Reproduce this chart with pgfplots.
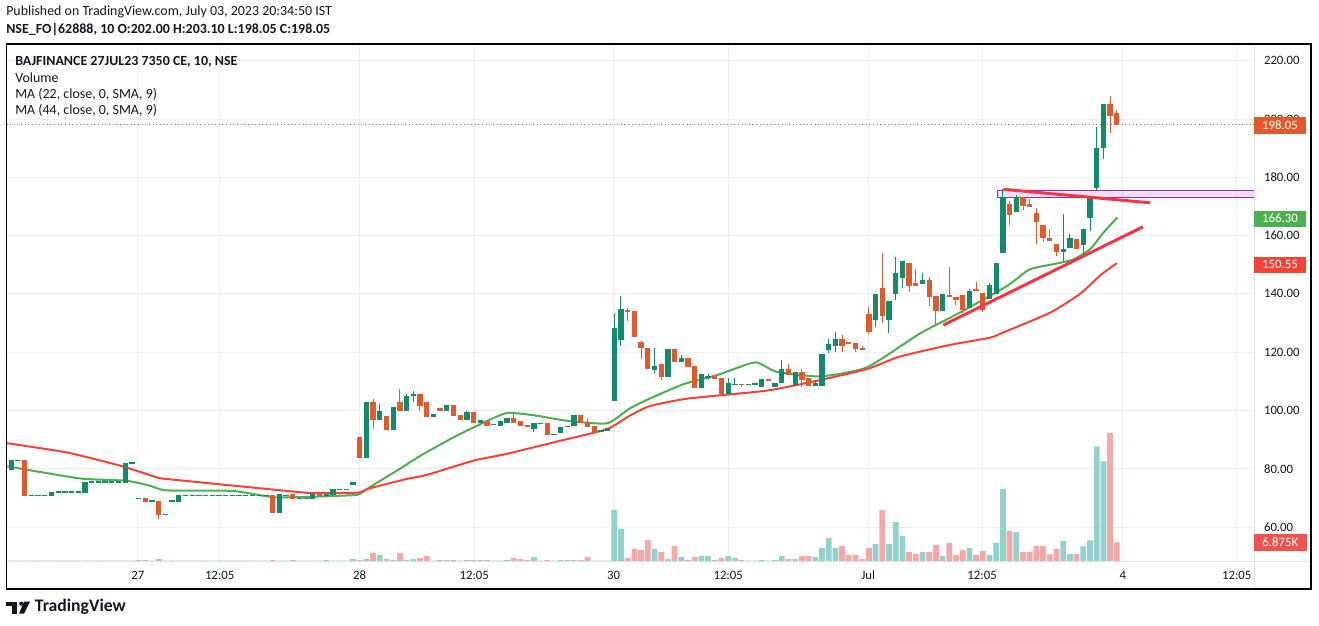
\documentclass[border=0pt]{standalone}
\usepackage{pgfplots}
\pgfplotsset{compat=1.18}
\usepackage{pgfplotstable}
\usepackage{fontspec}
\setmainfont{Carlito}
\definecolor{up}{HTML}{118B6C}
\definecolor{dn}{HTML}{E2592C}
\definecolor{vup}{HTML}{93D2CC}
\definecolor{vdn}{HTML}{F6A8A6}
\definecolor{mag}{HTML}{4CAF50}
\definecolor{mar}{HTML}{F44336}
\definecolor{trd}{HTML}{F23645}
\definecolor{purp}{HTML}{9C27B0}
\definecolor{gridc}{HTML}{EEEEEE}
\definecolor{sep}{HTML}{E0E3EB}
\definecolor{txt}{HTML}{131722}
\definecolor{vlab}{HTML}{EF5350}

\pgfplotstableread{
i o h l c v
0 79.7 83.0 79.7 83.0 0.45
1 83.0 83.0 83.0 83.0 0.45
2 83.0 83.0 70.8 70.8 0.45
3 70.9 70.9 70.9 70.9 0.45
4 70.9 70.9 70.9 70.9 0.45
5 70.9 70.9 70.9 70.9 0.45
6 70.8 72.1 70.8 72.1 0.45
7 72.1 72.1 72.1 72.1 0.45
8 72.1 72.1 72.1 72.1 0.45
9 72.1 72.1 72.1 72.1 0.45
10 72.1 72.1 72.1 72.1 0.45
11 71.8 75.5 71.8 75.5 0.45
12 75.5 75.5 75.5 75.5 0.45
13 75.5 75.5 75.5 75.5 0.45
14 75.5 75.5 75.5 75.5 0.45
15 75.5 75.5 75.5 75.5 0.45
16 75.5 75.5 75.5 75.5 0.45
17 75.3 82.0 75.3 82.0 0.45
18 82.0 82.0 82.0 82.0 0.45
19 69.9 69.9 69.9 69.9 0.7
20 70.0 70.0 68.6 68.6 0.7
21 69.0 69.0 69.0 69.0 0.45
22 69.0 69.0 62.9 64.3 1.05
23 64.4 64.4 64.4 64.4 0.45
24 69.0 69.0 69.0 69.0 0.45
25 68.7 71.0 68.7 71.0 0.45
26 70.9 70.9 70.9 70.9 0.45
27 70.9 70.9 70.9 70.9 0.45
28 70.9 70.9 70.9 70.9 0.45
29 70.9 70.9 70.9 70.9 0.45
30 70.9 70.9 70.9 70.9 0.45
31 70.9 70.9 70.9 70.9 0.45
32 70.9 70.9 70.9 70.9 0.45
33 70.9 70.9 70.9 70.9 0.45
34 70.9 70.9 70.9 70.9 0.45
35 70.9 70.9 70.9 70.9 0.45
36 70.9 70.9 70.9 70.9 0.45
37 70.9 70.9 70.9 70.9 0.45
38 70.9 70.9 70.9 70.9 0.45
39 71.0 71.0 65.0 65.0 0.7
40 65.0 71.4 65.0 71.4 0.45
41 71.0 71.0 71.0 71.0 0.45
42 71.4 71.4 69.7 69.7 0.7
43 69.9 69.9 69.9 69.9 0.45
44 69.9 69.9 69.9 69.9 0.45
45 69.7 71.4 69.7 71.4 0.45
46 71.4 71.4 70.6 70.6 0.45
47 70.6 71.4 70.6 71.4 0.7
48 71.0 73.1 71.0 73.1 0.45
49 73.0 73.0 73.0 73.0 0.45
50 73.0 73.0 73.0 73.0 0.45
51 74.5 75.4 74.5 75.4 1.05
52 90.9 90.9 83.8 83.8 0.7
53 83.8 103.0 83.8 103.0 1.05
54 103.0 103.9 93.6 96.8 3.2
55 96.8 102.2 96.8 99.8 2.5
56 98.1 98.1 93.4 93.4 1.05
57 93.4 101.2 93.4 101.2 0.7
58 103.0 107.3 99.8 99.8 3.2
59 99.8 105.6 99.8 104.9 0.7
60 104.9 106.6 103.0 105.7 1.05
61 105.7 105.7 99.8 101.6 1.4
62 103.0 103.0 97.8 97.8 2.1
63 97.8 98.8 97.8 98.8 0.45
64 100.8 100.8 99.8 99.8 0.7
65 99.8 101.8 99.8 101.8 0.7
66 101.8 101.8 98.1 98.1 0.7
67 98.4 98.4 96.7 96.7 0.45
68 96.7 99.9 96.7 99.6 0.7
69 99.6 99.6 95.7 95.7 0.7
70 95.7 96.9 95.7 96.9 0.7
71 96.5 96.5 94.8 94.8 0.7
72 95.2 95.2 95.2 95.2 0.45
73 94.8 96.5 94.8 96.5 0.45
74 95.7 97.4 95.7 97.4 0.7
75 97.4 98.8 95.7 95.7 1.4
76 96.5 96.5 94.8 94.8 1.05
77 94.85 94.85 94.8 94.8 0.7
78 93.6 95.7 92.7 95.7 1.75
79 95.7 95.7 95.7 95.7 0.45
80 95.7 95.7 91.7 91.7 0.7
81 91.8 91.8 91.8 91.8 0.45
82 92.3 94.3 92.3 94.3 0.7
83 94.3 94.8 94.3 94.8 0.7
84 94.7 98.4 94.7 98.4 0.7
85 98.4 98.4 95.7 95.7 0.7
86 96.2 97.3 94.5 94.5 1.75
87 94.7 94.7 92.4 92.4 0.45
88 93.0 93.0 93.0 93.0 0.45
89 92.9 93.9 92.9 93.9 0.45
90 103.3 133.4 103.3 128.2 18.3
91 124.2 139.3 122.0 134.7 11.6
92 134.4 135.3 130.7 134.0 1.4
93 134.0 134.0 125.2 125.2 4.6
94 123.5 123.9 117.6 121.4 4.2
95 121.4 121.4 114.4 114.4 7.7
96 113.8 121.4 112.7 115.2 4.6
97 115.9 115.9 110.5 111.5 3.5
98 111.5 121.0 111.5 121.0 1.05
99 121.0 121.0 116.7 116.7 5.6
100 116.7 119.0 116.7 117.9 1.75
101 117.9 117.9 115.0 115.0 0.7
102 115.2 115.2 107.7 107.7 1.75
103 107.7 112.5 107.7 112.5 2.1
104 111.2 112.5 110.5 111.7 2.1
105 112.1 112.1 110.8 110.8 0.7
106 111.1 111.1 105.3 105.6 1.4
107 105.7 111.0 105.7 109.4 2.1
108 109.0 111.0 109.0 109.1 1.4
109 109.1 109.1 108.2 109.0 0.7
110 109.0 109.0 109.0 109.0 0.45
111 109.0 109.5 109.0 109.5 0.45
112 108.1 110.8 108.1 110.8 0.7
113 110.8 110.8 110.0 110.0 0.45
114 108.1 109.6 108.1 109.6 0.7
115 109.6 117.3 109.6 114.2 2.1
116 114.2 115.9 112.2 112.2 1.05
117 108.8 113.1 108.8 113.1 1.05
118 113.1 114.2 108.1 110.5 2.1
119 111.1 111.1 108.3 108.3 2.1
120 108.3 110.1 108.3 109.4 1.75
121 108.3 119.3 108.3 119.3 4.9
122 120.8 124.5 119.7 122.7 8.4
123 122.2 127.1 120.1 124.5 4.9
124 124.5 125.9 120.0 122.0 5.6
125 123.5 123.5 123.0 123.0 2.5
126 123.1 123.1 120.0 121.0 2.5
127 121.5 122.3 121.0 121.0 1.05
128 133.1 135.5 126.2 127.0 4.9
129 131.0 139.9 128.5 139.9 6.3
130 141.9 153.9 129.9 132.4 18.3
131 131.1 137.5 126.5 137.5 6.3
132 139.9 152.8 137.8 147.1 14.0
133 145.5 151.2 142.0 151.2 9.1
134 150.7 150.7 140.7 142.7 3.5
135 143.6 148.4 142.7 142.7 2.8
136 143.3 147.3 143.3 144.7 3.5
137 144.7 145.9 135.9 139.0 3.5
138 139.3 139.3 129.6 134.1 6.0
139 134.1 139.9 134.1 139.9 2.1
140 139.5 149.2 138.8 138.8 6.7
141 138.8 138.8 136.2 138.0 2.5
142 139.6 139.6 133.6 134.5 4.2
143 135.3 141.6 135.3 140.9 4.9
144 141.6 144.0 140.9 140.9 2.5
145 140.4 140.4 133.9 134.5 3.9
146 138.2 143.9 138.2 143.0 2.5
147 139.9 150.7 139.9 150.7 6.7
148 153.9 176.1 153.9 173.2 25.6
149 171.0 171.8 163.8 167.0 10.9
150 168.1 174.1 168.1 173.3 10.5
151 173.4 173.4 168.7 170.1 3.5
152 170.7 172.7 169.8 169.8 3.5
153 167.8 169.6 157.2 164.7 5.6
154 163.8 163.8 157.8 159.3 5.6
155 159.3 162.1 158.1 158.1 2.8
156 157.0 157.0 153.0 154.4 4.6
157 154.4 167.3 151.3 155.3 7.4
158 155.7 160.4 155.7 159.3 2.8
159 159.0 159.0 155.5 155.5 2.8
160 156.7 162.1 153.8 162.1 5.5
161 166.1 173.3 161.6 173.3 7.6
162 176.2 197.2 175.6 190.1 40.6
163 190.0 205.3 186.3 205.3 35.3
164 205.3 208.0 195.2 200.9 45.2
165 202.0 203.1 198.05 198.05 6.875
}\candles

\pgfplotsset{myaxis/.style={scale only axis, width=935.625bp, height=387.75bp,
  xmin=-0.716, xmax=185.48, at={(4.875bp,48bp)}, anchor=south west, clip=true},
  candle/.style 2 args={draw=none, no markers, forget plot,
  error bars/.cd, y dir=both, y explicit, error mark=none,
  error bar style={draw=#1, line width=#2}}}

\begin{document}
\begin{tikzpicture}
\useasboundingbox (0,0) rectangle (989.25bp,469.5bp);
\fill[white] (0,0) rectangle (989.25bp,469.5bp);

% grid and tick labels
\begin{axis}[myaxis, ymin=48.03, ymax=225.39,
  axis line style={draw=none}, major tick length=0pt,
  ytick={60,80,...,220},
  xtick={18.9,31.1,52.0,69.1,89.9,107.0,127.9,144.9,165.9,182.9},
  xticklabels={27,12:05,28,12:05,30,12:05,Jul,12:05,4,12:05},
  grid=major, major grid style={gridc, line width=0.75bp},
  yticklabel pos=right,
  yticklabel={\pgfmathprintnumber[fixed,fixed zerofill,precision=2]{\tick}},
  /pgf/number format/assume math mode=true,
  ticklabel style={font=\fontsize{9.6}{10}\selectfont, text=txt},
  yticklabel style={anchor=west, xshift=4bp},
  xticklabel style={anchor=base, yshift=-13bp}]
\addplot[draw=none, forget plot] coordinates {(0,100)};
\end{axis}

% volume
\begin{axis}[myaxis, ymin=0, ymax=181.4, hide axis]
\addplot[ybar, bar width=4.3bp, bar shift=0pt, fill=vup, draw=none]
  table[x=i, y expr={\thisrow{c}>=\thisrow{o} ? \thisrow{v} : nan}]{\candles};
\addplot[ybar, bar width=4.3bp, bar shift=0pt, fill=vdn, draw=none]
  table[x=i, y expr={\thisrow{c}<\thisrow{o} ? \thisrow{v} : nan}]{\candles};
\end{axis}

% price
\begin{axis}[myaxis, ymin=48.03, ymax=225.39, hide axis]
% MA lines
\addplot[mag, line width=1.5bp, smooth, tension=0.35] coordinates {
(-0.7,80.9)(10.25,76.7)(17.2,75.9)(20.7,74.2)(23.2,72.6)(33.1,72.4)(39.6,70.2)
(50.6,70.9)(52.0,71.4)(53.5,73.7)(58.0,80.0)(61.0,84.4)(66.0,90.8)(70.0,95.3)
(73.9,99.1)(77.9,98.4)(82.9,96.5)(88.9,95.6)(92.3,100.7)(95.3,104.1)(100.3,109.0)
(105.3,112.1)(111.0,116.5)(114.2,113.3)(120.7,111.7)(127.7,114.8)(135.6,126.4)
(141.6,133.6)(148.6,142.7)(152.0,148.4)(156.0,150.4)(158.5,151.8)(161.0,155.3)
(163.0,161.0)(165.1,166.3)};
\addplot[mar, line width=1.5bp, smooth, tension=0.35] coordinates {
(-0.7,88.8)(8.3,85.6)(16.2,81.1)(21.7,77.1)(23.2,76.5)(38.1,73.1)(44.6,71.7)
(49.1,71.7)(52.0,71.9)(53.5,73.3)(59.0,76.5)(62.0,77.9)(69.0,82.8)(73.9,85.1)
(81.9,89.6)(88.9,93.6)(92.3,98.2)(95.3,101.5)(101.0,104.1)(112.7,106.8)
(120.2,110.2)(127.7,114.2)(132.6,118.5)(140.1,122.5)(146.1,125.0)(148.3,127.0)
(155.0,133.5)(159.5,140.0)(162.6,146.5)(165.0,150.55)};
% last price dotted
\addplot[dn, dotted, line width=0.75bp] coordinates {(-0.716,198.05)(185.48,198.05)};
% rectangle
\addplot[draw=purp, fill=purp, fill opacity=0.15, draw opacity=1, line width=0.75bp]
  coordinates {(147.2,173.14)(147.2,175.64)(186,175.64)(186,173.14)} -- cycle;
% wicks
\addplot[candle={up}{0.75bp}]
  table[x=i, y expr={\thisrow{c}>=\thisrow{o} ? (\thisrow{h}+\thisrow{l})/2 : nan},
        y error expr={(\thisrow{h}-\thisrow{l})/2}]{\candles};
\addplot[candle={dn}{0.75bp}]
  table[x=i, y expr={\thisrow{c}<\thisrow{o} ? (\thisrow{h}+\thisrow{l})/2 : nan},
        y error expr={(\thisrow{h}-\thisrow{l})/2}]{\candles};
% bodies
\addplot[candle={up}{4bp}]
  table[x=i, y expr={\thisrow{c}>=\thisrow{o} ? (\thisrow{o}+\thisrow{c})/2 : nan},
        y error expr={max(abs(\thisrow{c}-\thisrow{o})/2,0.18)}]{\candles};
\addplot[candle={dn}{4bp}]
  table[x=i, y expr={\thisrow{c}<\thisrow{o} ? (\thisrow{o}+\thisrow{c})/2 : nan},
        y error expr={max(abs(\thisrow{c}-\thisrow{o})/2,0.18)}]{\candles};
% trend lines
\addplot[trd, line width=2.25bp] coordinates {(139.1,129.3)(168.9,163.0)};
\addplot[trd, line width=2.25bp] coordinates {(148.06,175.9)(169.96,171.25)};
\end{axis}

% frame and separators
\draw[sep, line width=0.75bp] (940.5bp,27.75bp) -- (940.5bp,436bp);
\draw[sep, line width=0.75bp] (4.875bp,48.5bp) -- (983.25bp,48.5bp);
\draw[black, line width=1bp] (4.875bp,27.75bp) rectangle (983.25bp,436.5bp);

% price labels
\begin{scope}[every node/.style={text=white, font=\fontsize{9.6}{10}\selectfont, inner sep=0pt}]
\fill[dn] (940.5bp,369bp) rectangle (979.5bp,381.5bp);
\node at (960bp,375.25bp) {198.05};
\fill[mag] (940.5bp,299.5bp) rectangle (979.5bp,311.5bp);
\node at (960bp,305.5bp) {166.30};
\fill[mar] (940.5bp,265bp) rectangle (979.5bp,277bp);
\node at (960bp,271bp) {150.55};
\fill[vlab] (940.5bp,56.5bp) rectangle (980bp,69bp);
\node at (960.2bp,62.75bp) {6.875K};
\end{scope}

% header
\begin{scope}[every node/.style={anchor=west, inner sep=0pt, text=txt, font=\fontsize{10.5}{12}\selectfont}]
\node at (4.5bp,460.5bp) {Published on TradingView.com, July 03, 2023 20:34:50 IST};
\node at (4.5bp,447bp) {\bfseries NSE\_FO|62888, 10 O:202.00 H:203.10 L:198.05 C:198.05};
\node at (11.25bp,423.2bp) {\bfseries BAJFINANCE 27JUL23 7350 CE, 10, NSE};
\node at (11.25bp,411.4bp) {Volume};
\node at (11.25bp,399bp) {MA (22, close, 0, SMA, 9)};
\node at (11.25bp,387bp) {MA (44, close, 0, SMA, 9)};
\end{scope}

% logo
\fill[txt] (4.5bp,15bp) rectangle (13bp,18.25bp);
\fill[txt] (8.75bp,9.25bp) rectangle (13bp,18.25bp);
\fill[txt] (16bp,16.75bp) circle (1.6bp);
\fill[txt] (18bp,18.25bp) -- (22.5bp,18.25bp) -- (18bp,9.25bp) -- (14.25bp,9.25bp) -- cycle;
\node[anchor=west, inner sep=0pt, text=txt, font=\fontsize{13.3}{15}\selectfont\bfseries] at (26bp,14.25bp) {TradingView};
\end{tikzpicture}
\end{document}
